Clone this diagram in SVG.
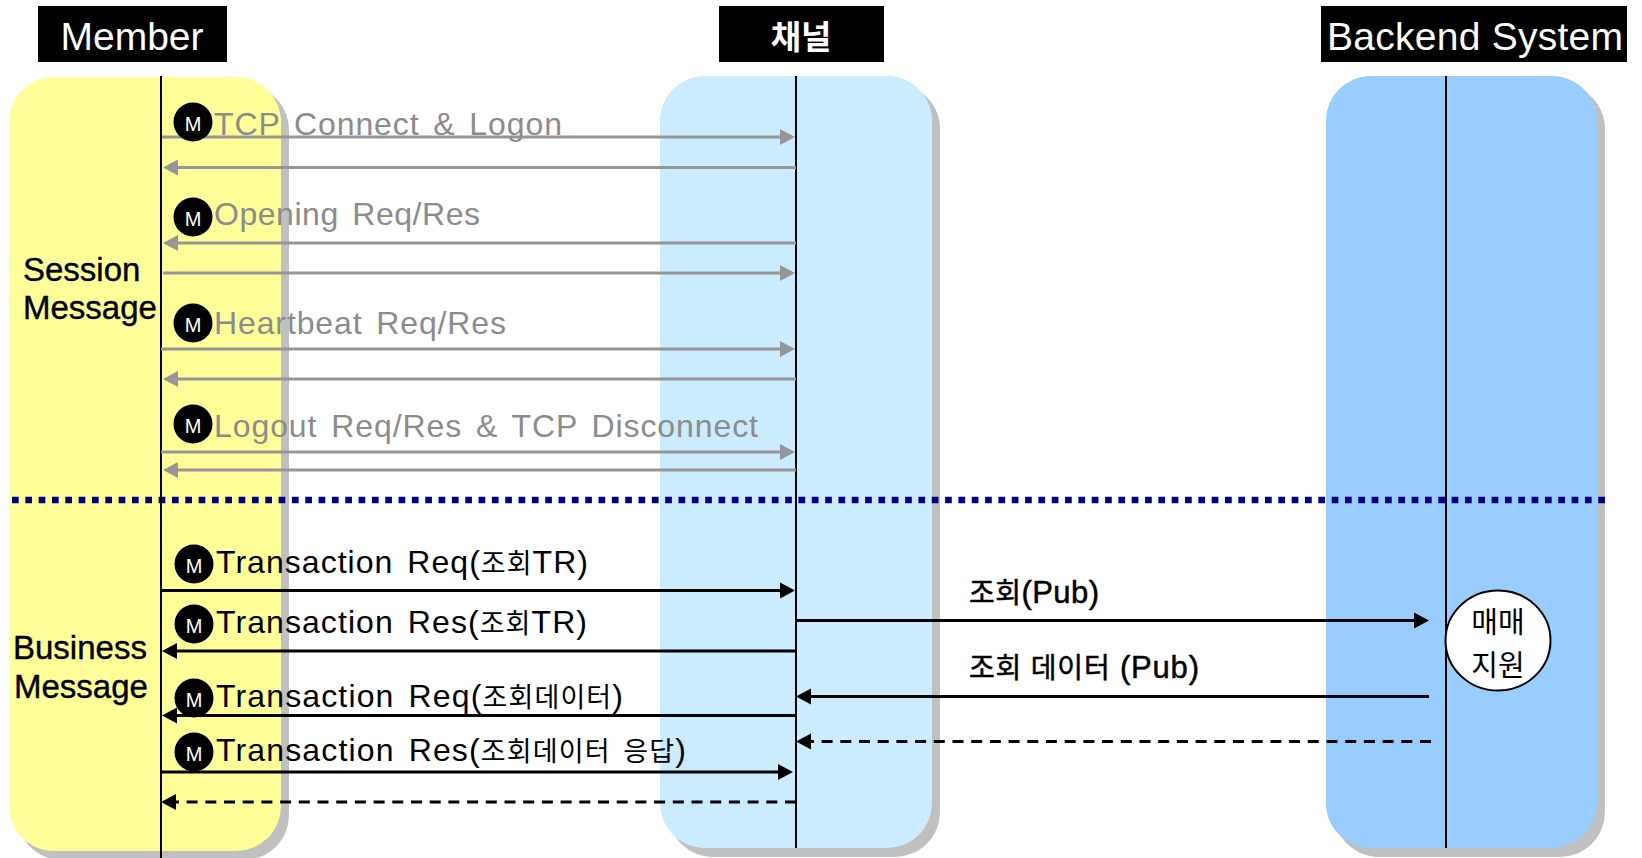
<svg xmlns="http://www.w3.org/2000/svg" width="1642" height="858" viewBox="0 0 1642 858">
<style>
text{font-family:"Liberation Sans","Noto Sans CJK KR",sans-serif}
.shadow{fill:#c0c0c0}
.life{stroke:#000;stroke-width:2;fill:none}
.hbox{fill:#000}
.htext{fill:#fff;font-size:39px;text-anchor:middle}
.hko{fill:#fff;font-size:33px;font-weight:bold;text-anchor:middle}
.badge{fill:#000}
.m{fill:#fff;font-size:20px;text-anchor:middle}
.g{fill:#8c8c8c;font-size:32px;word-spacing:4px}
.b{fill:#000;font-size:32px;word-spacing:4px}
.ko{font-size:27px}
.side{fill:#000;font-size:33px;stroke:#000;stroke-width:.4}
.lab{fill:#000;font-size:31px;stroke:#000;stroke-width:.5}
.lko{font-size:28px}
.ga{stroke:#969696;stroke-width:3;fill:none;marker-end:url(#gh)}
.ba{stroke:#000;stroke-width:3;fill:none;marker-end:url(#bh)}
.da{stroke:#000;stroke-width:3;fill:none;stroke-dasharray:11 7.7;marker-end:url(#bh)}
</style>
<defs>
<marker id="gh" markerUnits="userSpaceOnUse" markerWidth="16" markerHeight="18" refX="7" refY="8.5" orient="auto"><path d="M0 .5L15 8.5L0 16.5Z" fill="#969696"/></marker>
<marker id="bh" markerUnits="userSpaceOnUse" markerWidth="16" markerHeight="18" refX="7" refY="8.5" orient="auto"><path d="M0 .5L15 8.5L0 16.5Z" fill="#000"/></marker>
</defs>
<rect width="1642" height="858" fill="#fff"/>
<g id="member">
<rect class="shadow" x="17" y="85" width="272" height="775" rx="45"/>
<rect x="9" y="77" width="272" height="774" rx="45" fill="#ffff99"/>
<rect class="hbox" x="38" y="6" width="189" height="56"/>
<text class="htext" x="132" y="50">Member</text>
</g>
<g id="channel">
<rect class="shadow" x="668" y="84" width="272" height="773" rx="45"/>
<rect x="660" y="76" width="272" height="772" rx="45" fill="#cbebff"/>
<rect class="hbox" x="719" y="6" width="165" height="56"/>
<text class="hko" x="801" y="49">채널</text>
</g>
<g id="backend">
<rect class="shadow" x="1334" y="84" width="271" height="773" rx="45"/>
<rect x="1326" y="76" width="271" height="772" rx="45" fill="#99ccff"/>
<rect class="hbox" x="1321" y="6" width="306" height="56"/>
<text class="htext" x="1475" y="50" textLength="296">Backend System</text>
</g>
<g id="divider"><line x1="12" y1="500" x2="1606" y2="500" stroke="#000080" stroke-width="6.5" stroke-dasharray="6.7 6.63"/></g>
<g id="lifelines">
<line class="life" x1="161" y1="76" x2="161" y2="858"/>
<line class="life" x1="796" y1="76" x2="796" y2="848"/>
<line class="life" x1="1446" y1="76" x2="1446" y2="848"/>
</g>
<g id="connectors">
<line class="ga" x1="162" y1="137" x2="787" y2="137"/>
<line class="ga" x1="796" y1="167.5" x2="171" y2="167.5"/>
<line class="ga" x1="796" y1="243" x2="171" y2="243"/>
<line class="ga" x1="163" y1="273" x2="787" y2="273"/>
<line class="ga" x1="161" y1="349" x2="787" y2="349"/>
<line class="ga" x1="796" y1="379" x2="171" y2="379"/>
<line class="ga" x1="161" y1="452" x2="787" y2="452"/>
<line class="ga" x1="796" y1="470" x2="171" y2="470"/>
<line class="ba" x1="162" y1="590.5" x2="787" y2="590.5"/>
<line class="ba" x1="795" y1="651" x2="170" y2="651"/>
<line class="ba" x1="795" y1="715.5" x2="170" y2="715.5"/>
<line class="ba" x1="160" y1="772" x2="785" y2="772"/>
<line class="da" x1="796" y1="802" x2="169" y2="802"/>
<line class="ba" x1="796" y1="620.5" x2="1421" y2="620.5"/>
<line class="ba" x1="1429" y1="696.5" x2="804" y2="696.5"/>
<line class="da" x1="1431" y1="741.5" x2="804" y2="741.5"/>
</g>
<g id="badge-1"><circle class="badge" cx="193" cy="122" r="19.5"/><text class="m" x="193" y="131">M</text></g>
<g id="badge-2"><circle class="badge" cx="193" cy="217" r="19.5"/><text class="m" x="193" y="226">M</text></g>
<g id="badge-3"><circle class="badge" cx="193" cy="323" r="19.5"/><text class="m" x="193" y="332">M</text></g>
<g id="badge-4"><circle class="badge" cx="193" cy="424" r="19.5"/><text class="m" x="193" y="433">M</text></g>
<g id="badge-5"><circle class="badge" cx="194" cy="564" r="19.5"/><text class="m" x="194" y="573">M</text></g>
<g id="badge-6"><circle class="badge" cx="194" cy="624" r="19.5"/><text class="m" x="194" y="633">M</text></g>
<g id="badge-7"><circle class="badge" cx="194" cy="698" r="19.5"/><text class="m" x="194" y="707">M</text></g>
<g id="badge-8"><circle class="badge" cx="194" cy="752" r="19.5"/><text class="m" x="194" y="761">M</text></g>
<g id="labels">
<text class="g" x="214" y="135" textLength="348">TCP Connect &amp; Logon</text>
<text class="g" x="214" y="225" textLength="266">Opening Req/Res</text>
<text class="g" x="214" y="334" textLength="292">Heartbeat Req/Res</text>
<text class="g" x="214" y="437" textLength="544">Logout Req/Res &amp; TCP Disconnect</text>
<text class="b" x="216" y="573" textLength="372">Transaction Req(<tspan class="ko">조회</tspan>TR)</text>
<text class="b" x="216" y="633" textLength="371">Transaction Res(<tspan class="ko">조회</tspan>TR)</text>
<text class="b" x="216" y="707" textLength="407">Transaction Req(<tspan class="ko">조회데이터</tspan>)</text>
<text class="b" x="216" y="761" textLength="470">Transaction Res(<tspan class="ko">조회데이터 응답</tspan>)</text>
<text class="side" x="23" y="281">Session</text>
<text class="side" x="23" y="319">Message</text>
<text class="side" x="13" y="659">Business</text>
<text class="side" x="14" y="698">Message</text>
<text class="lab" x="969" y="603" textLength="130"><tspan class="lko">조회</tspan>(Pub)</text>
<text class="lab" x="969" y="678" textLength="230"><tspan class="lko">조회 데이터</tspan> (Pub)</text>
</g>
<g id="trade-support">
<ellipse cx="1498" cy="640.5" rx="52.5" ry="50" fill="#fff" stroke="#000" stroke-width="2"/>
<text x="1498" y="633" font-size="29" text-anchor="middle" fill="#000">매매</text>
<text x="1498" y="676" font-size="29" text-anchor="middle" fill="#000">지원</text>
</g>
</svg>
